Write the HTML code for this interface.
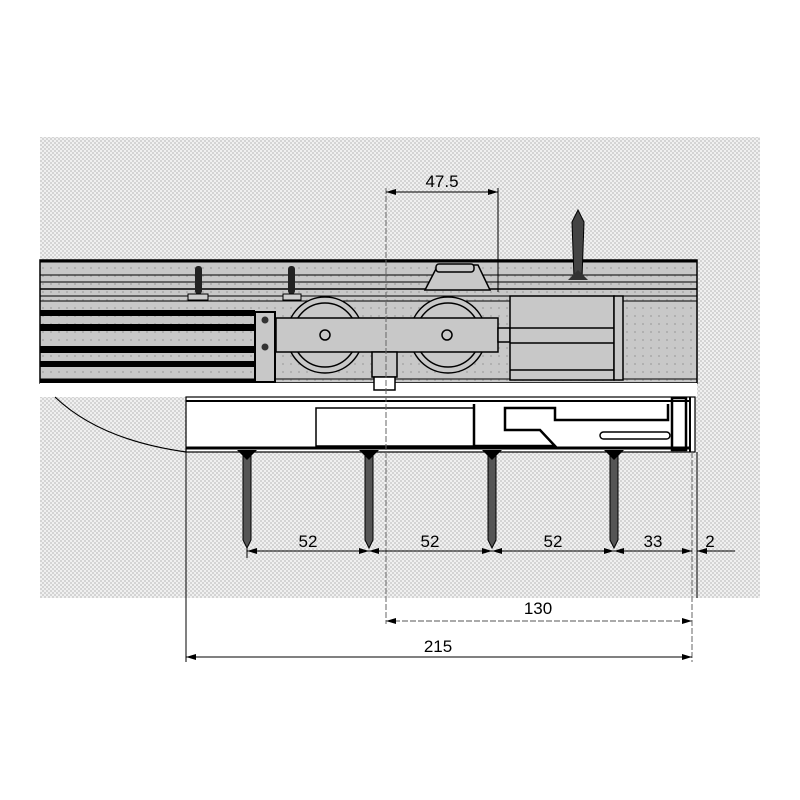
<!DOCTYPE html>
<html><head><meta charset="utf-8"><style>
html,body{margin:0;padding:0;background:#fff;width:800px;height:800px;overflow:hidden}
text{font-family:"Liberation Sans",sans-serif;font-size:17px;fill:#000}
</style></head><body>
<svg width="800" height="800" viewBox="0 0 800 800" xmlns="http://www.w3.org/2000/svg">
<defs>
<pattern id="bg" width="4" height="4" patternUnits="userSpaceOnUse">
<rect width="4" height="4" fill="#f0f0f0"/><rect width="2" height="2" fill="#d4d4d4"/><rect x="2" y="2" width="2" height="2" fill="#d4d4d4"/>
</pattern>
<pattern id="gr" width="8" height="8" patternUnits="userSpaceOnUse">
<rect width="8" height="8" fill="#c8c8c8"/><rect x="2" y="3" width="2" height="2" fill="#b0b0b0"/>
</pattern>
<marker id="ar" viewBox="0 0 10 6" refX="10" refY="3" markerWidth="10" markerHeight="6" orient="auto-start-reverse" markerUnits="userSpaceOnUse"><path d="M0,0L10,3L0,6z" fill="#000"/></marker>
</defs>
<rect x="40" y="137" width="720" height="461" fill="url(#bg)"/>
<!-- track -->
<rect x="40" y="260" width="657" height="123" fill="url(#gr)" stroke="#000" stroke-width="1.5"/>
<rect x="40" y="383" width="657" height="14" fill="#fff"/>
<g stroke="#000" fill="none">
<line x1="40" y1="261" x2="697" y2="261" stroke-width="3"/>
<line x1="40" y1="275" x2="697" y2="275"/>
<line x1="40" y1="282" x2="697" y2="282"/>
<line x1="40" y1="289" x2="697" y2="289" stroke-width="1.5"/>
<line x1="40" y1="296" x2="697" y2="296"/>
<line x1="40" y1="301" x2="697" y2="301"/>
<line x1="40" y1="379" x2="697" y2="379"/>
</g>
<!-- black profiles -->
<g fill="#000">
<rect x="40" y="310" width="215" height="6"/>
<rect x="40" y="324" width="215" height="7"/>
<rect x="40" y="346" width="215" height="7"/>
<rect x="40" y="361" width="215" height="6"/>
<rect x="40" y="379" width="215" height="4"/>
</g>
<rect x="255" y="312" width="20" height="70" fill="#c8c8c8" stroke="#000" stroke-width="2"/>
<circle cx="265" cy="320" r="3.5" fill="#333"/><circle cx="265" cy="347" r="3.5" fill="#333"/>
<!-- top screws -->
<g fill="#222"><rect x="195" y="266" width="7" height="28" rx="3"/><rect x="288" y="266" width="7" height="28" rx="3"/></g>
<rect x="188" y="294" width="20" height="6" fill="#ccc" stroke="#000"/>
<rect x="283" y="294" width="18" height="6" fill="#ccc" stroke="#000"/>
<!-- wheels -->
<g fill="#c8c8c8" stroke="#000" stroke-width="1.5">
<circle cx="325" cy="335" r="38"/><circle cx="325" cy="335" r="32"/>
<circle cx="448" cy="335" r="38"/><circle cx="448" cy="335" r="32"/>
<rect x="276" y="318" width="222" height="34"/>
<circle cx="325" cy="335" r="5"/><circle cx="447" cy="335" r="5"/>
<rect x="498" y="328" width="12" height="14"/>
<rect x="372" y="352" width="25" height="25"/>
<rect x="374" y="377" width="21" height="13" fill="#fff"/>
<rect x="510" y="296" width="104" height="84"/>
<line x1="510" y1="328" x2="614" y2="328"/><line x1="510" y1="343" x2="614" y2="343"/>
<line x1="510" y1="370" x2="614" y2="370"/>
<rect x="614" y="296" width="9" height="84"/>
<path d="M425,290 L438,265 L478,265 L490,290 Z"/>
<rect x="436" y="264" width="38" height="8" rx="3"/>
</g>
<!-- top screw -->
<g stroke="#000" fill="#444"><path d="M574,278 L572,222 L578,210 L584,222 L582,278 Z"/></g>
<path d="M568,280 L578,270 L588,280 Z" fill="#333"/>
<!-- lower box -->
<rect x="186" y="397" width="509" height="55" fill="#fff" stroke="#000" stroke-width="1.2"/>
<g stroke="#000" fill="none">
<line x1="186" y1="401" x2="690" y2="401" stroke-width="2"/>
<line x1="186" y1="448" x2="690" y2="448" stroke-width="3"/>
<rect x="316" y="408" width="158" height="38" stroke-width="1.5"/>
<path d="M474,404 L474,446 L555,446 L540,430 L505,430 L505,408 L555,408 L555,420 L668,420 L668,404" stroke-width="2.5"/>
<rect x="600" y="432" width="70" height="7" rx="3.5" stroke-width="1.5"/>
<rect x="672" y="398" width="14" height="52" stroke-width="2.5"/>
<line x1="690" y1="397" x2="690" y2="452" stroke-width="2"/>
<path d="M55,397 Q100,440 186,452" stroke-width="1.2"/>
</g>
<!-- screws below -->
<g fill="#555" stroke="#000">
<path d="M243,455 L243,540 L247,548 L251,540 L251,455 Z"/>
<path d="M365,455 L365,540 L369,548 L373,540 L373,455 Z"/>
<path d="M488,455 L488,540 L492,548 L496,540 L496,455 Z"/>
<path d="M610,455 L610,540 L614,548 L618,540 L618,455 Z"/>
</g>
<g fill="#000">
<path d="M237,450 L257,450 L247,460 Z"/><path d="M359,450 L379,450 L369,460 Z"/>
<path d="M482,450 L502,450 L492,460 Z"/><path d="M604,450 L624,450 L614,460 Z"/>
</g>
<!-- dimension lines -->
<g stroke="#000" stroke-width="1" fill="none">
<line x1="386" y1="188" x2="386" y2="624" stroke="#666" stroke-dasharray="6,2"/>
<line x1="498" y1="188" x2="498" y2="292"/>
<line x1="386" y1="192" x2="498" y2="192" marker-start="url(#ar)" marker-end="url(#ar)"/>
<line x1="186" y1="452" x2="186" y2="662"/>
<line x1="692" y1="452" x2="692" y2="662" stroke="#666" stroke-dasharray="6,2"/>
<line x1="697" y1="452" x2="697" y2="598"/>
<line x1="247" y1="548" x2="247" y2="558"/>
<line x1="247" y1="551" x2="369" y2="551" marker-start="url(#ar)" marker-end="url(#ar)"/>
<line x1="369" y1="551" x2="492" y2="551" marker-start="url(#ar)" marker-end="url(#ar)"/>
<line x1="492" y1="551" x2="614" y2="551" marker-start="url(#ar)" marker-end="url(#ar)"/>
<line x1="614" y1="551" x2="692" y2="551" marker-start="url(#ar)" marker-end="url(#ar)"/>
<line x1="697" y1="551" x2="735" y2="551"/>
<line x1="718" y1="551" x2="697" y2="551" marker-end="url(#ar)"/>
<line x1="386" y1="621" x2="692" y2="621" stroke="#555" stroke-dasharray="6,2" marker-start="url(#ar)" marker-end="url(#ar)"/>
<line x1="186" y1="657" x2="692" y2="657" marker-start="url(#ar)" marker-end="url(#ar)"/>
</g>
<text x="442" y="187" text-anchor="middle">47.5</text>
<text x="308" y="547" text-anchor="middle">52</text>
<text x="430" y="547" text-anchor="middle">52</text>
<text x="553" y="547" text-anchor="middle">52</text>
<text x="653" y="547" text-anchor="middle">33</text>
<text x="710" y="547" text-anchor="middle">2</text>
<text x="538" y="614" text-anchor="middle">130</text>
<text x="438" y="652" text-anchor="middle">215</text>
</svg>
</body></html>
